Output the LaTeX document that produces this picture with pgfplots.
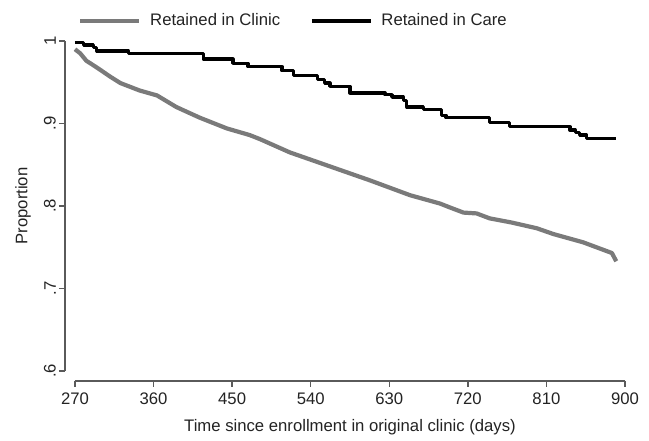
\documentclass[border=0pt]{standalone}
\usepackage{fontspec}
\setmainfont{Liberation Sans}
\usepackage{pgfplots}
\pgfplotsset{compat=1.18}

\definecolor{clinicgray}{RGB}{122,122,122}
\definecolor{axisgray}{RGB}{90,90,90}
\definecolor{txt}{RGB}{35,35,35}

\begin{document}
\fontsize{16.7}{20}\selectfont
\begin{tikzpicture}
\begin{axis}[
  scale only axis,
  width=550pt, height=330pt,
  xmin=270, xmax=900,
  ymin=0.6, ymax=1,
  axis x line=bottom, axis y line=left,
  axis x line shift=10pt, axis y line shift=10pt,
  axis line style={-, axisgray, line width=1.3pt},
  every tick/.style={axisgray, line width=1.3pt},
  tick align=outside,
  major tick length=6pt,
  xtick={270,360,450,540,630,720,810,900},
  ytick={0.6,0.7,0.8,0.9,1},
  yticklabels={.6,.7,.8,.9,1},
  /pgf/number format/assume math mode=true,
  tick label style={text=txt},
  yticklabel style={rotate=90, anchor=south, inner sep=3pt},
  xticklabel style={anchor=north, inner sep=3pt, yshift=-3pt},
  every axis x label/.style={at={(axis description cs:0.5,-0.1697)}, anchor=center, text=txt},
  every axis y label/.style={at={(axis description cs:-0.0945,0.5)}, rotate=90, anchor=center, text=txt},
  xlabel={Time since enrollment in original clinic (days)},
  ylabel={Proportion},
  clip=false,
  legend columns=2,
  legend style={draw=none, fill=none, inner sep=0pt, outer sep=0pt,
    at={(axis description cs:0.0055,1.0606)}, anchor=west,
    nodes={inner sep=0pt, text=txt},
    /tikz/every odd column/.style={column sep=9pt},
    /tikz/every even column/.style={column sep=30pt}},
  legend image code/.code={\draw[#1] (0pt,0pt) -- (59pt,0pt);},
]
\addplot[clinicgray, line width=4.2pt, line join=round] coordinates {
  (270,0.990) (276,0.985) (283,0.976) (289,0.972) (299,0.965) (310,0.957)
  (322,0.949) (344,0.940) (364,0.934) (386,0.920) (413,0.907) (444,0.894)
  (470,0.886) (482,0.881) (516,0.865) (562,0.848) (608,0.831) (654,0.813)
  (688,0.803) (700,0.798) (715,0.792) (730,0.791) (745,0.785) (770,0.780)
  (799,0.773) (818,0.766) (852,0.756) (885,0.743) (890,0.733)
};
\addplot[black, line width=3.3pt, const plot, line join=round] coordinates {
  (270,0.998) (280,0.995) (291,0.992) (295,0.988) (331,0.985) (417,0.978)
  (451,0.973) (468,0.969) (507,0.964) (520,0.958) (548,0.953) (556,0.949)
  (562,0.945) (585,0.937) (625,0.935) (633,0.932) (646,0.928) (650,0.920)
  (669,0.917) (690,0.910) (695,0.907) (745,0.901) (768,0.896) (837,0.892)
  (843,0.889) (848,0.886) (856,0.882) (890,0.882)
};
\legend{Retained in Clinic, Retained in Care}
\end{axis}
\path (-75pt,-65pt) rectangle (574pt,371pt);
\end{tikzpicture}
\end{document}
